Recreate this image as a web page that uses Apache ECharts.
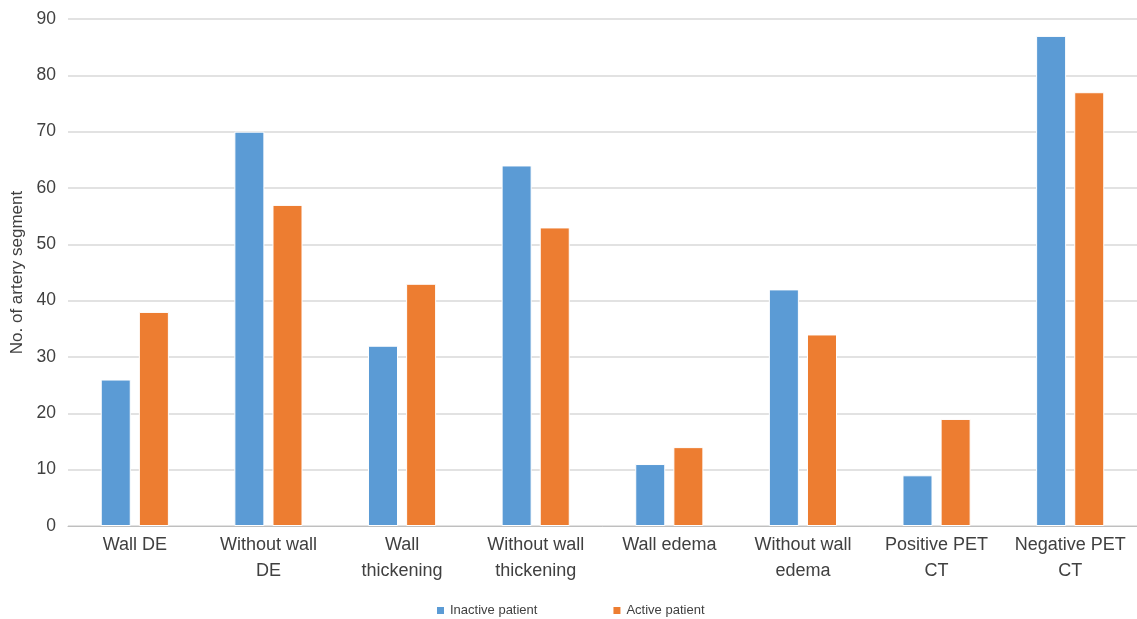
<!DOCTYPE html>
<html>
<head>
<meta charset="utf-8">
<script src="https://cdn.jsdelivr.net/npm/echarts@6/dist/echarts.min.js"></script>
<style>
  html, body { margin: 0; padding: 0; background: #fff; }
  #chart { width: 1137px; height: 619px; }
</style>
</head>
<body>
<div id="chart"></div>
<script>
// Artery segment counts by imaging finding
const categories = [
  'Wall DE', 'Without wall\nDE', 'Wall\nthickening', 'Without wall\nthickening',
  'Wall edema', 'Without wall\nedema', 'Positive PET\nCT', 'Negative PET\nCT'
];
const inactivePatient = [26, 70, 32, 64, 11, 42, 9, 87];
const activePatient = [38, 57, 43, 53, 14, 34, 19, 77];
const yTicks = { min: 0, max: 90, interval: 10 };

const font = 'Helvetica, "Liberation Sans", Arial, sans-serif';
const chart = echarts.init(document.getElementById('chart'), null, { renderer: 'canvas' });

chart.setOption({
  animation: false,
  textStyle: { fontFamily: font },
  grid: { left: 68, right: 0, top: 19, bottom: 93, containLabel: false, outerBoundsMode: 'none' },
  legend: {
    left: 430,
    top: 599,
    itemWidth: 9,
    itemHeight: 9,
    itemGap: 74,
    icon: 'rect',
    textStyle: { fontSize: 13, color: '#404040', fontFamily: font },
    data: ['Inactive patient', 'Active patient']
  },
  xAxis: {
    type: 'category',
    data: categories,
    axisLine: { lineStyle: { color: '#bfbfbf', width: 1 } },
    axisTick: { show: false },
    axisLabel: {
      color: '#404040',
      fontSize: 18,
      lineHeight: 26,
      margin: 6,
      interval: 0,
      fontFamily: font
    }
  },
  yAxis: {
    type: 'value',
    min: yTicks.min,
    max: yTicks.max,
    interval: yTicks.interval,
    name: 'No. of artery segment',
    nameLocation: 'middle',
    nameGap: 40,
    nameTextStyle: { color: '#404040', fontSize: 17, fontFamily: font },
    axisLine: { show: false },
    axisTick: { show: false },
    axisLabel: { color: '#404040', fontSize: 17.5, margin: 12, fontFamily: font },
    splitLine: { lineStyle: { color: '#d9d9d9', width: 1.5 } }
  },
  series: [
    {
      name: 'Inactive patient',
      type: 'bar',
      data: inactivePatient,
      barGap: '27%',
      barCategoryGap: '49%',
      itemStyle: { color: '#5b9bd5', borderColor: '#ffffff', borderWidth: 1 }
    },
    {
      name: 'Active patient',
      type: 'bar',
      data: activePatient,
      itemStyle: { color: '#ed7d31', borderColor: '#ffffff', borderWidth: 1 }
    }
  ]
});
</script>
</body>
</html>
